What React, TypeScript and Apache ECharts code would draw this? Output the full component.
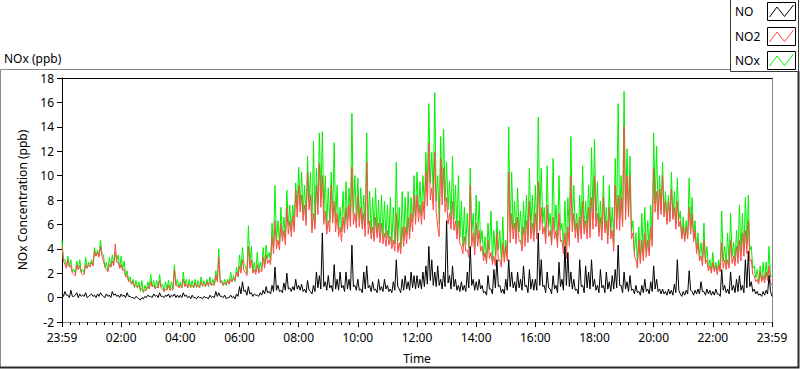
import React, { useEffect, useRef } from "react";
import * as echarts from "echarts";

// Sampling: "peak" readings every 6 minutes from the 23:59 start (t = 0, 6, 12 ...),
// "trough" readings in between (t = 3, 9, 15 ...).
const STEP_MIN = 6;

// NOx (ppb), green series, peaks (2-hour blocks of 20, plus the closing value)
const NOX = [
  4.7, 3.1, 3.4, 3.1, 2.3, 3.0, 3.1, 2.3, 3.3, 2.9, 3.1, 4.1, 3.9, 4.7, 3.5, 2.9, 3.3, 3.5, 3.7, 3.5,
  3.4, 3.0, 2.2, 1.7, 1.5, 1.4, 1.3, 1.4, 1.0, 1.3, 1.9, 1.4, 1.4, 1.9, 1.1, 1.3, 1.4, 1.3, 2.7, 1.5,
  1.3, 2.1, 1.5, 1.5, 1.4, 1.5, 1.4, 1.7, 1.4, 1.5, 1.7, 1.5, 2.2, 4.0, 1.4, 1.5, 1.5, 2.1, 1.8, 2.5,
  3.5, 4.1, 2.6, 5.9, 4.2, 2.9, 3.7, 2.9, 4.1, 4.3, 3.7, 6.1, 9.2, 6.3, 7.4, 6.6, 8.8, 7.6, 7.6, 9.4,
  10.7, 10.3, 9.2, 11.6, 10.3, 12.8, 10.6, 13.5, 13.6, 10.0, 9.0, 10.3, 12.7, 9.2, 7.4, 8.7, 9.5, 9.0, 15.1, 10.0,
  9.8, 9.0, 8.4, 13.5, 8.7, 8.2, 9.0, 8.0, 8.4, 7.9, 7.6, 8.2, 7.4, 11.1, 7.4, 8.7, 8.2, 8.7, 8.2, 10.0,
  10.3, 9.5, 10.0, 11.9, 15.9, 11.9, 16.8, 10.0, 13.2, 13.8, 11.1, 9.5, 11.6, 9.2, 10.0, 7.9, 7.4, 6.9, 10.6, 6.9,
  8.4, 7.9, 5.5, 5.0, 6.1, 7.1, 5.5, 6.3, 5.5, 6.6, 4.7, 14.0, 10.3, 7.9, 9.0, 7.1, 7.9, 8.4, 10.6, 8.4,
  9.2, 14.8, 10.6, 7.4, 10.8, 6.9, 11.4, 7.6, 10.0, 6.1, 7.9, 8.2, 13.2, 9.2, 6.9, 8.4, 10.8, 7.9, 9.2, 12.3,
  13.0, 9.5, 7.9, 10.0, 7.4, 9.2, 7.4, 11.4, 15.9, 10.0, 16.9, 12.2, 11.6, 6.3, 5.3, 5.8, 6.9, 7.4, 6.3, 7.6,
  13.5, 12.4, 10.0, 11.1, 8.7, 8.4, 10.3, 8.7, 9.8, 7.1, 6.6, 6.3, 9.8, 8.2, 6.3, 5.3, 4.5, 6.1, 4.2, 3.1,
  3.7, 2.9, 3.1, 7.1, 4.2, 5.3, 6.9, 4.5, 5.5, 7.6, 6.9, 8.2, 8.4, 4.2, 2.6, 2.3, 2.6, 2.9, 2.9, 4.2,
  1.8,
];

// NOx troughs (t = 3, 9, 15 ...)
const NOX_LOW = [
  3.1, 2.6, 2.5, 2.1, 2.0, 2.3, 2.1, 2.0, 2.4, 2.7, 2.7, 3.4, 3.4, 3.6, 2.5, 2.2, 2.5, 2.8, 3.0, 2.4,
  2.3, 1.7, 1.4, 1.1, 0.8, 0.8, 0.5, 0.4, 0.6, 0.8, 0.9, 0.8, 0.8, 0.9, 0.5, 0.7, 0.6, 0.7, 1.0, 0.8,
  0.8, 1.0, 0.8, 0.8, 0.8, 0.8, 0.8, 0.9, 0.9, 0.9, 1.0, 1.0, 1.4, 1.3, 1.0, 1.0, 1.1, 1.3, 1.3, 1.8,
  2.3, 2.7, 2.0, 2.7, 2.1, 2.1, 2.1, 2.3, 2.7, 3.2, 3.0, 4.1, 4.6, 4.4, 5.0, 4.9, 5.9, 5.5, 6.0, 7.3,
  7.6, 6.8, 6.3, 7.8, 5.6, 6.1, 7.6, 8.1, 6.9, 5.8, 6.2, 6.6, 6.1, 5.6, 5.4, 5.8, 6.3, 6.4, 6.9, 6.3,
  6.4, 6.0, 5.7, 6.0, 5.3, 5.2, 5.3, 5.1, 4.9, 4.9, 4.8, 4.4, 4.4, 4.6, 4.0, 4.8, 5.1, 5.4, 6.2, 6.7,
  7.0, 6.7, 7.3, 8.6, 9.4, 8.2, 7.9, 6.0, 8.3, 7.9, 7.2, 6.3, 6.4, 5.4, 4.9, 4.2, 4.3, 4.1, 5.2, 4.1,
  4.8, 4.5, 3.4, 3.0, 3.9, 3.0, 3.4, 3.9, 2.9, 3.2, 3.6, 5.4, 5.6, 4.9, 5.4, 4.4, 5.1, 4.9, 5.5, 5.2,
  5.4, 6.5, 6.1, 4.8, 5.8, 4.6, 5.5, 4.5, 5.5, 4.2, 4.2, 5.1, 6.1, 5.5, 4.8, 5.7, 5.6, 5.6, 5.6, 6.5,
  6.4, 5.4, 5.5, 5.7, 5.1, 5.3, 4.5, 6.4, 6.5, 6.2, 7.1, 7.1, 5.4, 3.7, 2.8, 3.0, 3.4, 3.8, 3.7, 4.7,
  7.7, 6.9, 7.1, 6.9, 6.2, 6.5, 6.6, 6.0, 6.4, 4.9, 4.8, 5.1, 5.8, 4.8, 3.9, 3.3, 3.1, 3.0, 2.5, 2.2,
  2.3, 2.2, 2.2, 3.0, 2.7, 2.7, 3.4, 3.0, 3.3, 3.6, 3.8, 4.4, 3.9, 2.4, 1.6, 1.3, 1.4, 1.4, 1.7, 1.7,
];

// NO2 (ppb), red series, peaks
const NO2 = [
  4.2, 2.7, 3.1, 2.6, 1.9, 2.7, 2.6, 1.9, 2.7, 2.7, 2.9, 3.8, 3.7, 4.2, 3.0, 2.3, 2.7, 3.0, 4.4, 2.9,
  2.7, 2.3, 1.8, 1.4, 1.3, 1.0, 1.0, 0.7, 0.6, 0.9, 1.3, 1.0, 0.9, 1.4, 0.7, 0.7, 1.0, 0.7, 2.3, 1.0,
  1.0, 1.5, 1.1, 1.1, 1.0, 1.2, 1.0, 1.3, 1.1, 1.3, 1.3, 1.1, 1.8, 3.3, 1.3, 1.2, 1.4, 1.5, 1.6, 2.1,
  2.6, 3.1, 2.1, 4.2, 3.1, 2.3, 2.7, 2.3, 3.3, 3.5, 3.1, 5.0, 6.3, 4.7, 6.1, 5.5, 7.4, 6.3, 6.7, 8.8,
  9.2, 8.4, 7.6, 10.3, 8.4, 6.9, 9.2, 11.0, 10.0, 7.1, 6.3, 9.2, 7.9, 6.9, 5.8, 6.6, 7.4, 7.6, 10.7, 6.9,
  8.4, 7.4, 6.9, 11.1, 6.3, 5.8, 6.6, 6.1, 6.1, 5.3, 5.5, 5.0, 4.7, 6.9, 4.5, 5.8, 5.8, 6.6, 6.9, 8.4,
  8.4, 7.6, 7.9, 10.3, 12.7, 9.0, 11.9, 5.8, 11.4, 10.6, 8.2, 6.9, 7.9, 6.3, 6.3, 4.2, 5.0, 3.9, 9.2, 5.3,
  6.1, 5.5, 4.2, 3.7, 4.7, 3.7, 3.4, 5.3, 3.1, 4.5, 4.2, 10.3, 6.9, 6.1, 6.6, 4.7, 5.8, 6.3, 7.9, 6.1,
  6.9, 9.5, 7.4, 5.8, 7.6, 5.5, 6.6, 5.5, 6.9, 4.7, 5.3, 5.8, 10.0, 6.9, 6.1, 6.6, 7.9, 6.3, 7.4, 8.2,
  10.0, 6.9, 6.6, 8.2, 6.3, 7.4, 5.5, 9.2, 8.4, 8.2, 14.0, 10.0, 10.0, 5.3, 3.1, 4.7, 4.7, 5.3, 4.7, 5.8,
  10.6, 8.7, 8.9, 10.0, 7.9, 7.9, 8.9, 7.4, 7.9, 6.3, 5.8, 5.8, 7.4, 6.9, 5.5, 4.5, 3.4, 4.7, 3.1, 2.6,
  2.9, 2.6, 2.7, 4.5, 3.1, 3.1, 4.7, 3.4, 4.2, 4.7, 5.3, 5.5, 6.3, 3.1, 1.8, 1.5, 2.1, 1.8, 2.1, 2.6,
  1.0,
];

// NO2 troughs
const NO2_LOW = [
  3.0, 2.4, 2.5, 2.0, 1.8, 2.3, 2.0, 1.9, 2.4, 2.5, 2.6, 3.4, 3.3, 3.4, 2.5, 2.1, 2.5, 2.6, 2.9, 2.4,
  2.2, 1.7, 1.3, 1.1, 0.9, 0.8, 0.7, 0.5, 0.6, 0.7, 0.9, 0.7, 0.8, 0.8, 0.5, 0.6, 0.6, 0.6, 1.0, 0.8,
  0.8, 0.9, 0.8, 0.9, 0.8, 0.9, 0.8, 1.0, 0.9, 1.0, 1.0, 1.0, 1.3, 1.2, 1.0, 1.1, 1.1, 1.3, 1.4, 1.7,
  2.0, 2.2, 1.8, 2.4, 2.0, 1.9, 2.0, 2.1, 2.4, 2.8, 2.7, 3.6, 4.0, 3.9, 4.6, 4.3, 5.2, 5.0, 5.4, 6.6,
  7.0, 6.3, 5.9, 7.2, 5.3, 5.6, 6.8, 7.4, 6.0, 5.2, 5.4, 6.1, 5.4, 5.0, 4.6, 5.3, 5.6, 5.8, 6.0, 5.7,
  5.8, 5.6, 5.0, 5.2, 4.8, 4.6, 4.9, 4.5, 4.4, 4.2, 4.3, 4.0, 3.8, 3.7, 3.6, 4.2, 4.4, 4.8, 5.4, 6.0,
  6.2, 6.0, 6.4, 7.5, 8.0, 7.2, 7.0, 5.0, 7.6, 7.0, 6.0, 5.6, 5.5, 4.8, 4.4, 3.6, 3.8, 3.3, 4.2, 3.5,
  4.2, 3.8, 3.0, 2.8, 3.2, 2.7, 2.6, 3.0, 2.5, 2.9, 3.0, 4.5, 4.8, 4.4, 4.6, 3.8, 4.2, 4.5, 4.8, 4.6,
  4.8, 5.5, 5.2, 4.4, 5.0, 4.3, 4.8, 4.1, 4.6, 3.6, 3.2, 4.2, 5.4, 4.9, 4.5, 4.8, 5.2, 4.8, 4.9, 5.6,
  5.8, 5.0, 4.7, 5.3, 4.4, 4.8, 3.8, 5.6, 5.5, 5.8, 6.4, 6.6, 4.8, 3.4, 2.4, 2.8, 3.0, 3.3, 3.4, 4.2,
  7.0, 6.4, 6.8, 6.6, 6.0, 6.2, 6.4, 5.6, 5.8, 4.8, 4.6, 4.8, 5.2, 4.6, 3.6, 3.0, 2.6, 2.8, 2.2, 2.0,
  2.1, 1.9, 2.1, 2.4, 2.3, 2.4, 2.8, 2.6, 2.8, 3.0, 3.4, 3.6, 3.0, 1.9, 1.3, 1.1, 1.3, 1.2, 1.4, 1.2,
];

// NO (ppb), black series, peaks
const NO = [
  0.3, 0.5, 0.2, 0.6, 0.1, 0.4, 0.3, 0.2, 0.4, 0.1, 0.3, 0.2, 0.3, 0.4, 0.1, 0.3, 0.2, 0.5, 0.3, 0.2,
  0.3, 0.2, 0.4, 0.1, 0.0, 0.1, -0.1, 0.0, 0.1, 0.2, 0.1, 0.3, 0.2, 0.4, 0.1, 0.2, 0.3, 0.2, 0.3, 0.2,
  0.2, 0.4, 0.2, 0.1, 0.2, 0.0, 0.1, 0.0, 0.1, 0.0, 0.2, 0.1, 0.5, 0.4, 0.1, 0.2, 0.0, 0.2, 0.1, 0.3,
  0.9, 1.3, 0.6, 0.9, 0.4, 0.3, 0.2, 0.4, 0.6, 0.9, 0.5, 1.0, 2.5, 1.0, 0.6, 1.2, 2.0, 0.8, 0.9, 1.5,
  1.0, 1.1, 0.7, 1.4, 0.5, 1.0, 2.1, 1.8, 5.3, 1.3, 1.8, 1.0, 2.7, 1.5, 2.1, 1.0, 2.1, 1.5, 4.3, 1.0,
  1.5, 0.7, 2.1, 2.6, 1.0, 1.3, 0.7, 1.5, 0.9, 1.5, 1.0, 0.7, 1.3, 3.1, 0.7, 1.5, 1.8, 1.3, 2.1, 1.8,
  1.8, 1.5, 2.1, 2.6, 4.2, 3.1, 2.1, 2.6, 1.5, 2.1, 6.3, 1.8, 2.6, 1.5, 1.0, 1.3, 1.0, 2.1, 4.2, 1.5,
  1.3, 1.5, 1.0, 0.5, 1.8, 0.7, 2.3, 3.1, 1.0, 0.7, 1.5, 3.1, 2.1, 1.3, 2.1, 1.5, 2.6, 1.0, 2.3, 1.5,
  1.5, 5.3, 3.1, 1.0, 2.1, 0.7, 1.8, 1.0, 2.9, 1.5, 4.2, 3.7, 2.1, 1.5, 0.7, 3.1, 1.0, 2.6, 2.1, 3.1,
  1.5, 1.0, 2.3, 1.0, 2.1, 1.3, 1.8, 2.3, 4.3, 1.0, 2.1, 1.3, 1.8, 0.7, 1.0, 0.5, 1.0, 1.5, 0.7, 1.3,
  2.6, 1.5, 0.7, 0.7, 0.5, 0.7, 0.6, 1.1, 3.1, 0.3, 0.5, 0.6, 2.2, 0.5, 0.6, 0.7, 1.3, 0.5, 0.7, 0.6,
  0.5, 0.7, 0.3, 2.3, 1.0, 0.7, 2.1, 1.0, 1.5, 1.8, 1.0, 3.1, 3.8, 1.3, 0.7, 0.5, 0.3, 0.5, 0.6, 1.8,
  0.1,
];

// NO troughs
const NO_LOW = [
  0.1, 0.2, 0.0, 0.1, 0.2, 0.0, 0.1, 0.1, 0.0, 0.2, 0.1, 0.0, 0.1, 0.2, 0.0, 0.1, 0.0, 0.2, 0.1, 0.0,
  0.1, 0.0, 0.1, 0.0, -0.1, 0.0, -0.2, -0.1, 0.0, 0.1, 0.0, 0.1, 0.0, 0.1, 0.0, 0.1, 0.0, 0.1, 0.0, 0.0,
  0.0, 0.1, 0.0, -0.1, 0.0, -0.1, 0.0, -0.1, 0.0, -0.1, 0.0, 0.0, 0.1, 0.1, 0.0, -0.1, 0.0, 0.0, -0.1, 0.1,
  0.3, 0.5, 0.2, 0.3, 0.1, 0.2, 0.1, 0.2, 0.3, 0.4, 0.3, 0.5, 0.6, 0.5, 0.4, 0.6, 0.7, 0.5, 0.6, 0.7,
  0.6, 0.5, 0.4, 0.6, 0.3, 0.5, 0.8, 0.7, 0.9, 0.6, 0.8, 0.5, 0.7, 0.6, 0.8, 0.5, 0.7, 0.6, 0.9, 0.6,
  0.6, 0.4, 0.7, 0.8, 0.5, 0.6, 0.4, 0.6, 0.5, 0.7, 0.5, 0.4, 0.6, 0.9, 0.4, 0.6, 0.7, 0.6, 0.8, 0.7,
  0.8, 0.7, 0.9, 1.1, 1.4, 1.0, 0.9, 1.0, 0.7, 0.9, 1.2, 0.7, 0.9, 0.6, 0.5, 0.6, 0.5, 0.8, 1.0, 0.6,
  0.6, 0.7, 0.4, 0.2, 0.7, 0.3, 0.8, 0.9, 0.4, 0.3, 0.6, 0.9, 0.8, 0.5, 0.8, 0.6, 0.9, 0.4, 0.7, 0.6,
  0.6, 1.0, 0.9, 0.4, 0.8, 0.3, 0.7, 0.4, 0.9, 0.6, 1.0, 0.9, 0.7, 0.6, 0.3, 0.9, 0.4, 0.8, 0.7, 0.9,
  0.6, 0.4, 0.8, 0.4, 0.7, 0.5, 0.7, 0.8, 1.0, 0.4, 0.7, 0.5, 0.6, 0.3, 0.4, 0.2, 0.4, 0.5, 0.3, 0.5,
  0.7, 0.5, 0.3, 0.3, 0.2, 0.3, 0.2, 0.4, 0.6, 0.1, 0.2, 0.3, 0.6, 0.2, 0.3, 0.3, 0.5, 0.2, 0.3, 0.2,
  0.2, 0.3, 0.1, 0.6, 0.4, 0.3, 0.6, 0.4, 0.5, 0.6, 0.4, 0.8, 0.9, 0.5, 0.3, 0.2, 0.1, 0.2, 0.3, 0.5,
];

const X_TICK_LABELS = [
  "23:59", "02:00", "04:00", "06:00", "08:00", "10:00", "12:00",
  "14:00", "16:00", "18:00", "20:00", "22:00", "23:59",
];

const SERIES_NAMES = ["NO", "NO2", "NOx"];
const SERIES_COLORS = ["#000000", "#ff4a4a", "#00f000"];

const FONT = "'Segoe UI', 'Noto Sans', sans-serif";

// Merge peak readings (t = 6i) and trough readings (t = 6i + 3) into [minute, value] pairs
function toPairs(peaks: number[], troughs: number[]) {
  const out: number[][] = [];
  peaks.forEach((v, i) => {
    out.push([i * STEP_MIN, v]);
    if (i < troughs.length) out.push([i * STEP_MIN + STEP_MIN / 2, troughs[i]]);
  });
  return out;
}

export default function App() {
  const ref = useRef<HTMLDivElement>(null);

  useEffect(() => {
    if (!ref.current) return;
    const chart = echarts.init(ref.current, undefined, { renderer: "svg" });

    const legendGraphics: any[] = [
      {
        type: "rect",
        shape: { x: 730.5, y: -1, width: 68, height: 72.5 },
        style: { fill: "#fff", stroke: "#3a3a3a", lineWidth: 1 },
      },
    ];
    const boxY = [2, 27, 51];
    SERIES_NAMES.forEach((name, i) => {
      legendGraphics.push({
        type: "text",
        x: 735,
        y: boxY[i] + 9,
        style: {
          text: name,
          font: `12px ${FONT}`,
          fill: "#000",
          verticalAlign: "middle",
        },
      });
      legendGraphics.push({
        type: "rect",
        shape: { x: 767.5, y: boxY[i] + 0.5, width: 28, height: 18 },
        style: { fill: "#fff", stroke: "#000", lineWidth: 1 },
      });
      legendGraphics.push({
        type: "polyline",
        shape: {
          points: [
            [769.5, boxY[i] + 15],
            [777, boxY[i] + 5],
            [784.5, boxY[i] + 14.5],
            [793.5, boxY[i] + 3],
          ],
        },
        style: { stroke: SERIES_COLORS[i], lineWidth: 1, fill: "none" },
      });
    });

    const axisLabelStyle = { color: "#000", fontSize: 12, fontFamily: FONT };

    chart.setOption({
      animation: false,
      backgroundColor: "#fff",
      title: {
        text: "NOx (ppb)",
        left: 2,
        top: 50,
        padding: 2,
        textStyle: { fontSize: 12, fontWeight: "normal", color: "#000", fontFamily: FONT },
      },
      grid: { left: 62, right: 28, top: 78, bottom: 39, containLabel: false },
      xAxis: [
        {
          type: "value",
          min: 0,
          max: 1440,
          interval: 120,
          position: "bottom",
          name: "Time",
          nameLocation: "middle",
          nameGap: 30,
          nameTextStyle: axisLabelStyle,
          axisLine: { show: true, onZero: false, lineStyle: { color: "#8a8a8a", width: 1 } },
          axisTick: { show: true, length: 5, lineStyle: { color: "#000" } },
          minorTick: { show: true, splitNumber: 7, length: 3, lineStyle: { color: "#000" } },
          axisLabel: {
            ...axisLabelStyle,
            margin: 9,
            showMinLabel: true,
            showMaxLabel: true,
            formatter: (v: number) => X_TICK_LABELS[Math.round(v / 120)] ?? "",
          },
          splitLine: { show: false },
        },
        {
          type: "value",
          min: 0,
          max: 1440,
          position: "top",
          axisLine: { show: true, onZero: false, lineStyle: { color: "#000", width: 1 } },
          axisTick: { show: false },
          axisLabel: { show: false },
          splitLine: { show: false },
        },
      ],
      yAxis: [
        {
          type: "value",
          min: -2,
          max: 18,
          interval: 2,
          position: "left",
          name: "NOx Concentration (ppb)",
          nameLocation: "middle",
          nameGap: 34,
          nameRotate: 90,
          nameTextStyle: axisLabelStyle,
          axisLine: { show: true, onZero: false, lineStyle: { color: "#000", width: 1 } },
          axisTick: { show: true, length: 5, lineStyle: { color: "#000" } },
          axisLabel: { ...axisLabelStyle, margin: 8 },
          splitLine: { show: false },
        },
        {
          type: "value",
          min: -2,
          max: 18,
          position: "right",
          axisLine: { show: true, onZero: false, lineStyle: { color: "#8a8a8a", width: 1 } },
          axisTick: { show: false },
          axisLabel: { show: false },
          splitLine: { show: false },
        },
      ],
      graphic: [
        {
          type: "polyline",
          shape: { points: [[730, 69.5], [0.5, 69.5], [0.5, 367]] },
          style: { stroke: "#8a8a8a", lineWidth: 1, fill: "none" },
          silent: true,
        },
        {
          type: "polyline",
          shape: { points: [[0, 367.5], [798.5, 367.5], [798.5, 71]] },
          style: { stroke: "#2a2a2a", lineWidth: 2, fill: "none" },
          silent: true,
        },
        ...legendGraphics,
      ],
      series: [
        {
          name: "NOx",
          type: "line",
          data: toPairs(NOX, NOX_LOW),
          showSymbol: false,
          silent: true,
          lineStyle: { color: SERIES_COLORS[2], width: 1 },
          itemStyle: { color: SERIES_COLORS[2] },
          z: 2,
        },
        {
          name: "NO2",
          type: "line",
          data: toPairs(NO2, NO2_LOW),
          showSymbol: false,
          silent: true,
          lineStyle: { color: SERIES_COLORS[1], width: 1 },
          itemStyle: { color: SERIES_COLORS[1] },
          z: 3,
        },
        {
          name: "NO",
          type: "line",
          data: toPairs(NO, NO_LOW),
          showSymbol: false,
          silent: true,
          lineStyle: { color: SERIES_COLORS[0], width: 1 },
          itemStyle: { color: SERIES_COLORS[0] },
          z: 4,
        },
      ],
    });

    return () => chart.dispose();
  }, []);

  return (
    <div
      ref={ref}
      style={{ position: "fixed", left: 0, top: 0, width: 800, height: 369, background: "#fff" }}
    />
  );
}
